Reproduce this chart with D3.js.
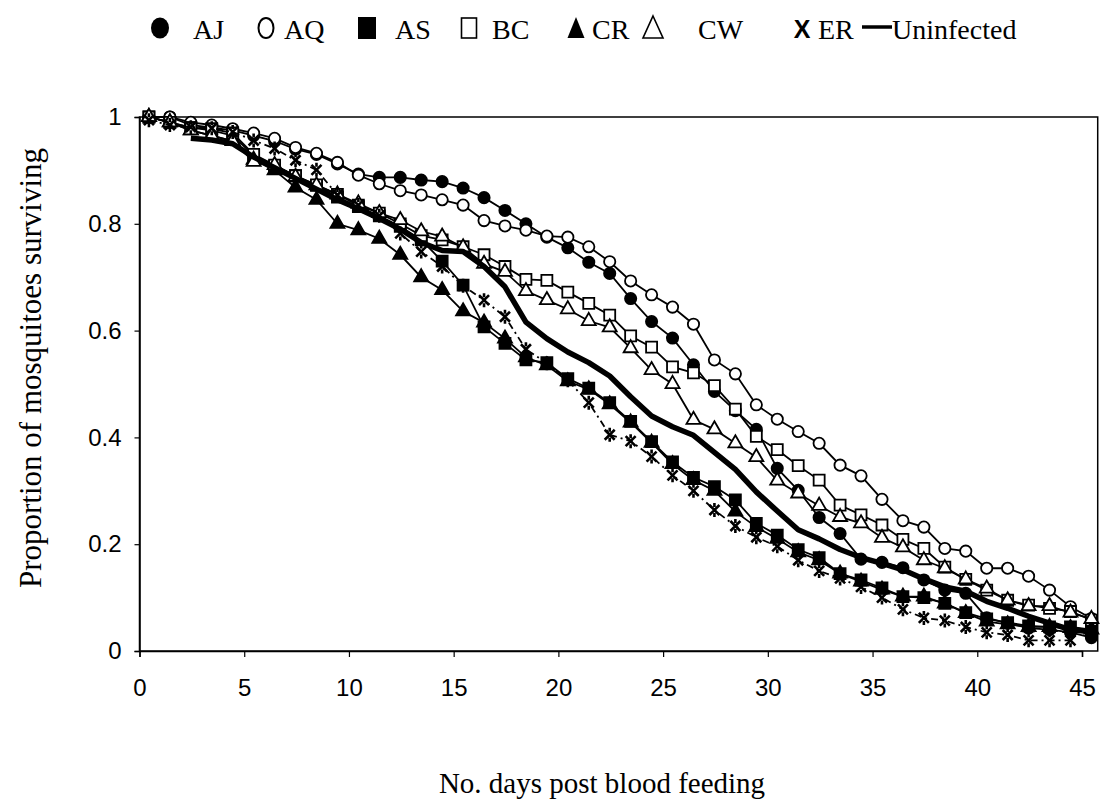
<!DOCTYPE html>
<html>
<head>
<meta charset="utf-8">
<script src="https://cdn.jsdelivr.net/npm/d3@7"></script>
<style>
  body { margin: 0; background: #fff; }
  svg { display: block; }
  .tick text { font-family: Arial, "Liberation Sans", sans-serif; font-size: 24px; fill: #000; }
  .serif { font-family: "Times New Roman", "Liberation Serif", serif; fill: #000; }
</style>
</head>
<body>
<div id="chart"></div>
<script>
const W = 1119, H = 805;

// survival proportions, index = day post blood feeding
const AJ = [1.0, 1.0, 0.985, 0.98, 0.975, 0.965, 0.955, 0.94, 0.93, 0.912, 0.893, 0.887, 0.887, 0.882, 0.879, 0.867,
  0.849, 0.825, 0.80, 0.775, 0.755, 0.728, 0.707, 0.66, 0.617, 0.586, 0.536, 0.486, 0.45, 0.415, 0.342,
  0.301, 0.25, 0.22, 0.172, 0.166, 0.156, 0.133, 0.114, 0.108, 0.062, 0.052, 0.043, 0.04, 0.035, 0.025];
const AQ = [1.0, 1.0, 0.99, 0.985, 0.978, 0.97, 0.96, 0.943, 0.932, 0.915, 0.891, 0.875, 0.862, 0.854, 0.845, 0.835,
  0.806, 0.796, 0.788, 0.777, 0.775, 0.757, 0.729, 0.693, 0.667, 0.644, 0.612, 0.545, 0.519, 0.461, 0.434,
  0.411, 0.389, 0.348, 0.328, 0.284, 0.244, 0.232, 0.192, 0.187, 0.155, 0.155, 0.14, 0.114, 0.083, 0.061];
const AS = [1.0, 0.99, 0.98, 0.975, 0.965, 0.928, 0.908, 0.89, 0.872, 0.85, 0.832, 0.815, 0.795, 0.77, 0.73, 0.685,
  0.607, 0.576, 0.545, 0.54, 0.51, 0.492, 0.465, 0.43, 0.392, 0.354, 0.325, 0.308, 0.283, 0.239, 0.217,
  0.19, 0.175, 0.145, 0.133, 0.118, 0.102, 0.1, 0.089, 0.072, 0.06, 0.053, 0.047, 0.045, 0.045, 0.04];
const BC = [1.0, 0.99, 0.98, 0.978, 0.97, 0.93, 0.91, 0.89, 0.873, 0.855, 0.835, 0.82, 0.8, 0.778, 0.77, 0.757,
  0.742, 0.72, 0.696, 0.694, 0.672, 0.651, 0.629, 0.59, 0.569, 0.532, 0.521, 0.497, 0.453, 0.402, 0.377,
  0.347, 0.32, 0.273, 0.255, 0.236, 0.209, 0.192, 0.157, 0.134, 0.114, 0.095, 0.086, 0.08, 0.074, 0.058];
const CR = [1.0, 0.99, 0.975, 0.965, 0.955, 0.92, 0.9, 0.868, 0.845, 0.80, 0.788, 0.772, 0.742, 0.70, 0.676, 0.636,
  0.615, 0.585, 0.55, 0.535, 0.505, 0.49, 0.462, 0.428, 0.39, 0.35, 0.32, 0.3, 0.261, 0.232, 0.21,
  0.185, 0.17, 0.145, 0.13, 0.115, 0.102, 0.102, 0.089, 0.071, 0.055, 0.05, 0.045, 0.045, 0.043, 0.04];
const CW = [1.0, 0.99, 0.975, 0.965, 0.955, 0.916, 0.91, 0.888, 0.872, 0.855, 0.838, 0.82, 0.807, 0.786, 0.776, 0.756,
  0.725, 0.71, 0.674, 0.657, 0.64, 0.618, 0.606, 0.567, 0.526, 0.50, 0.433, 0.415, 0.389, 0.363, 0.319,
  0.295, 0.272, 0.251, 0.239, 0.212, 0.194, 0.17, 0.155, 0.134, 0.117, 0.095, 0.084, 0.084, 0.072, 0.06];
const ER = [0.994, 0.985, 0.981, 0.979, 0.972, 0.956, 0.941, 0.919, 0.901, 0.854, 0.835, 0.815, 0.782, 0.748, 0.72, 0.684,
  0.657, 0.626, 0.565, 0.539, 0.507, 0.465, 0.405, 0.393, 0.364, 0.329, 0.30, 0.264, 0.234, 0.213, 0.196,
  0.17, 0.15, 0.136, 0.12, 0.1, 0.078, 0.062, 0.057, 0.045, 0.035, 0.03, 0.02, 0.02, 0.02];
// uninfected control starts on day 2
const UNINF_START = 2;
const Uninfected = [0.96, 0.957, 0.95, 0.925, 0.905, 0.885, 0.865, 0.845, 0.828, 0.81, 0.79, 0.765, 0.75, 0.748,
  0.72, 0.682, 0.616, 0.585, 0.56, 0.54, 0.515, 0.476, 0.44, 0.42, 0.404, 0.372, 0.34, 0.298, 0.262,
  0.227, 0.21, 0.19, 0.175, 0.164, 0.152, 0.135, 0.12, 0.112, 0.093, 0.08, 0.065, 0.052, 0.04, 0.036];

const xTicks = [0, 5, 10, 15, 20, 25, 30, 35, 40, 45];
const yTicks = [0, 0.2, 0.4, 0.6, 0.8, 1];

const series = [
  { name: "AJ", values: AJ, marker: "circle", filled: true },
  { name: "AQ", values: AQ, marker: "circle", filled: false },
  { name: "AS", values: AS, marker: "square", filled: true },
  { name: "BC", values: BC, marker: "square", filled: false },
  { name: "CR", values: CR, marker: "triangle", filled: true },
  { name: "CW", values: CW, marker: "triangle", filled: false },
  { name: "ER", values: ER, marker: "star", filled: false, dash: "7,4,2,4" }
];

const X_OFFSET = 0.45; // points sit a bit right of the day tick

const x = d3.scaleLinear().domain([0, 45]).range([139.5, 1082]);
const y = d3.scaleLinear().domain([0, 1]).range([651, 117]);
const plotRight = x(45.75);

const svg = d3.select("#chart").append("svg")
  .attr("width", W).attr("height", H);

// plot frame
svg.append("rect")
  .attr("x", x(0)).attr("y", y(1))
  .attr("width", plotRight - x(0)).attr("height", y(0) - y(1))
  .attr("fill", "none").attr("stroke", "#000").attr("stroke-width", 1.5);

const xAxis = svg.append("g")
  .attr("transform", `translate(0,${y(0)})`)
  .call(d3.axisBottom(x).tickValues(xTicks).tickSize(6).tickPadding(22));
const yAxis = svg.append("g")
  .attr("transform", `translate(${x(0)},0)`)
  .call(d3.axisLeft(y).tickValues(yTicks).tickSize(5).tickPadding(13)
    .tickFormat(d => d === 0 || d === 1 ? String(d) : d.toFixed(1)));
[xAxis, yAxis].forEach(g => {
  g.select(".domain").attr("stroke", "#000").attr("stroke-width", 1.5);
  g.selectAll(".tick line").attr("stroke", "#000").attr("stroke-width", 1.2);
});

function markerPath(type) {
  if (type === "circle") return d3.symbol(d3.symbolCircle, 100)();
  if (type === "square") return d3.symbol(d3.symbolSquare, 121)();
  if (type === "triangle") return d3.symbol(d3.symbolTriangle, 85)();
  return "M-5,-5L5,5M-5,5L5,-5M0,-7L0,-3M0,3L0,7";
}

const line = d3.line().x(d => x(d[0] + X_OFFSET)).y(d => y(d[1]));

series.forEach(s => {
  const pts = s.values.map((v, i) => [i, v]);
  const g = svg.append("g").attr("class", "series");
  g.append("path")
    .attr("d", line(pts))
    .attr("fill", "none").attr("stroke", "#000").attr("stroke-width", 1.8)
    .attr("stroke-dasharray", s.dash || null);
  g.selectAll("path.mk").data(pts).join("path")
    .attr("class", "mk")
    .attr("transform", d => `translate(${x(d[0] + X_OFFSET)},${y(d[1])})`)
    .attr("d", markerPath(s.marker))
    .attr("fill", s.marker === "star" ? "none" : (s.filled ? "#000" : "#fff"))
    .attr("stroke", "#000")
    .attr("stroke-width", s.marker === "star" ? 2.6 : 1.8);
});

// uninfected control: thick line, no markers
svg.append("path")
  .attr("d", line(Uninfected.map((v, i) => [i + UNINF_START, v])))
  .attr("fill", "none").attr("stroke", "#000").attr("stroke-width", 5.5)
  .attr("stroke-linejoin", "round");

// axis titles
svg.append("text").attr("class", "serif")
  .attr("x", 602).attr("y", 793)
  .attr("text-anchor", "middle").attr("font-size", 29)
  .text("No. days post blood feeding");
svg.append("text").attr("class", "serif")
  .attr("transform", "translate(41,368) rotate(-90)")
  .attr("text-anchor", "middle").attr("font-size", 31)
  .text("Proportion of mosquitoes surviving");

// legend
const legendItems = [
  { label: "AJ", sym: "circleF", sx: 160, tx: 193 },
  { label: "AQ", sym: "circleO", sx: 266, tx: 284 },
  { label: "AS", sym: "squareF", sx: 367, tx: 395 },
  { label: "BC", sym: "squareO", sx: 469, tx: 492 },
  { label: "CR", sym: "triF", sx: 576, tx: 592 },
  { label: "CW", sym: "triO", sx: 653, tx: 698 },
  { label: "ER", sym: "x", sx: 802, tx: 818 },
  { label: "Uninfected", sym: "line", sx: 877, tx: 892 }
];
const LY = 28;
const leg = svg.append("g");
legendItems.forEach(it => {
  if (it.sym === "circleF") {
    leg.append("ellipse").attr("cx", it.sx).attr("cy", LY).attr("rx", 9).attr("ry", 10.5).attr("fill", "#000");
  } else if (it.sym === "circleO") {
    leg.append("ellipse").attr("cx", it.sx).attr("cy", LY).attr("rx", 7.5).attr("ry", 10)
      .attr("fill", "none").attr("stroke", "#000").attr("stroke-width", 2);
  } else if (it.sym === "squareF") {
    leg.append("rect").attr("x", it.sx - 9).attr("y", LY - 11).attr("width", 18).attr("height", 22).attr("fill", "#000");
  } else if (it.sym === "squareO") {
    leg.append("rect").attr("x", it.sx - 7.5).attr("y", LY - 10).attr("width", 15).attr("height", 20)
      .attr("fill", "none").attr("stroke", "#000").attr("stroke-width", 1.6);
  } else if (it.sym === "triF") {
    leg.append("path").attr("d", `M${it.sx},${LY - 11}L${it.sx + 8.5},${LY + 10}L${it.sx - 8.5},${LY + 10}Z`).attr("fill", "#000");
  } else if (it.sym === "triO") {
    leg.append("path").attr("d", `M${it.sx},${LY - 12}L${it.sx + 10},${LY + 10}L${it.sx - 10},${LY + 10}Z`)
      .attr("fill", "none").attr("stroke", "#000").attr("stroke-width", 1.6);
  } else if (it.sym === "x") {
    leg.append("text").attr("x", it.sx).attr("y", LY + 10).attr("text-anchor", "middle")
      .attr("font-family", "Arial, 'Liberation Sans', sans-serif").attr("font-weight", "bold")
      .attr("font-size", 25).text("X");
  } else if (it.sym === "line") {
    leg.append("line").attr("x1", it.sx - 15).attr("x2", it.sx + 15).attr("y1", LY - 1).attr("y2", LY - 1)
      .attr("stroke", "#000").attr("stroke-width", 3.5);
  }
  leg.append("text").attr("class", "serif")
    .attr("x", it.tx).attr("y", LY + 11).attr("font-size", 28)
    .text(it.label);
});
</script>
</body>
</html>
